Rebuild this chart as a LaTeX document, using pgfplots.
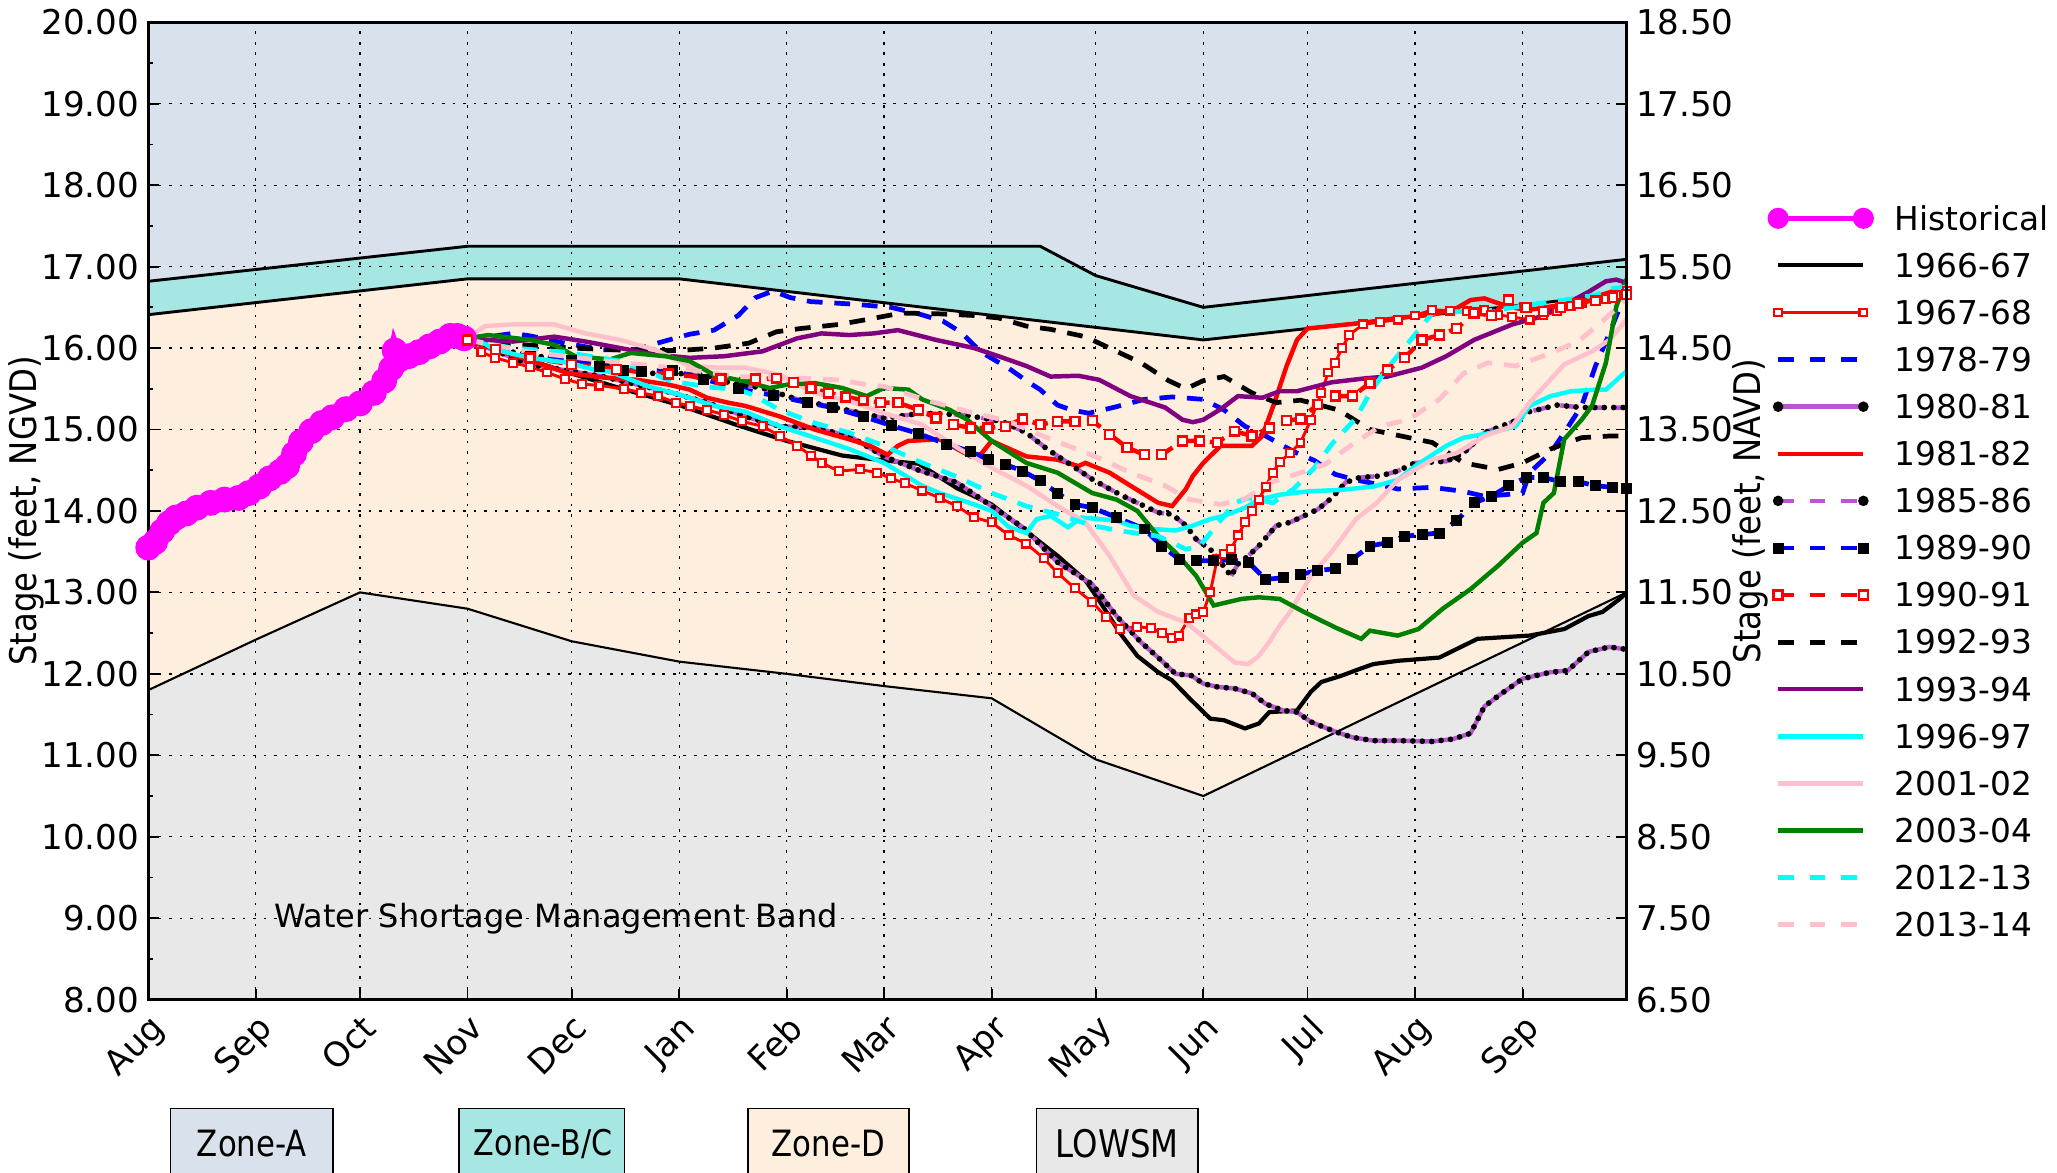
\documentclass[border=0pt]{standalone}
\usepackage{fontspec}
\setmainfont{DejaVu Sans}
\newfontfamily\condfont[FakeStretch=0.88]{DejaVu Sans}
\newfontfamily\zonefont[FakeStretch=0.85]{DejaVu Sans}
\usepackage{pgfplots}
\usepackage{pgfplotstable}
\pgfplotsset{compat=1.18}

\definecolor{zoneA}{RGB}{216,225,236}
\definecolor{zoneBC}{RGB}{166,231,227}
\definecolor{zoneD}{RGB}{253,238,222}
\definecolor{lowsm}{RGB}{232,232,232}
\definecolor{magentac}{RGB}{255,0,255}
\definecolor{cyanc}{RGB}{0,255,255}
\definecolor{orchidc}{RGB}{186,85,211}
\definecolor{purplec}{RGB}{128,0,128}
\definecolor{pinkc}{RGB}{255,192,203}
\definecolor{greenc}{RGB}{0,128,0}

\newcommand\tickfont{\fontsize{13}{15}\selectfont}

% 1980-81 and 1985-86 are drawn twice (orchid line + black dots)
\pgfplotstableread{
x y
92 16.1
110 15.8
131 15.65
151 15.45
161 15.33
172 15.16
182 15.04
192 15.02
202 14.92
212 14.67
222 14.5
233 14.35
245 14.0
252 13.8
262 13.37
272 13.1
279 12.71
286 12.39
291 12.2
296 12.0
300.5 11.98
304 11.88
308 11.84
313 11.82
318 11.76
322 11.63
327 11.55
331 11.53
335 11.41
342 11.29
347 11.22
353 11.18
360 11.18
370 11.17
376 11.2
381 11.27
385 11.6
389 11.73
396 11.94
404 12.02
409 12.04
415 12.27
421 12.33
426 12.3
}\tEighty

\pgfplotstableread{
x y
92 16.1
105 15.95
120 15.85
134 15.8
143 15.69
152 15.69
160 15.67
168 15.57
177 15.51
187 15.37
200 15.25
212 15.14
223 15.2
235 15.18
246 15.1
253 14.96
259 14.76
265 14.59
272 14.39
277 14.27
281 14.18
287 14.06
291 13.98
295 13.96
299 13.82
302 13.65
306 13.53
309 13.37
312 13.2
314 13.35
317 13.45
320 13.57
325 13.82
329 13.86
333 13.94
337 14.02
341 14.16
345 14.35
349 14.41
355 14.43
360 14.49
365 14.59
374 14.61
379 14.71
385 14.96
393.5 15.1
398 15.22
406 15.3
413 15.27
426 15.27
}\tEightyFive

\begin{document}
\begin{tikzpicture}
\begin{axis}[
    name=main,
    at={(0,0)}, anchor=south west,
    scale only axis, width=563.5pt, height=372.5pt,
    set layers,
    xmin=0, xmax=426, ymin=8, ymax=20,
    xtick={0,31,61,92,122,153,184,212,243,273,304,334,365,396},
    xticklabels={Aug,Sep,Oct,Nov,Dec,Jan,Feb,Mar,Apr,May,Jun,Jul,Aug,Sep},
    xticklabel style={rotate=45, anchor=north east, font=\tickfont},
    ytick={8,...,20},
    minor ytick={8.5,9.5,...,19.5},
    yticklabel style={/pgf/number format/.cd, fixed, fixed zerofill, precision=2,
        assume math mode=true, /tikz/.cd, font=\tickfont},
    ytick pos=left, xtick pos=bottom,
    tick align=inside,
    major tick length=4pt, minor tick length=2pt,
    tick style={black, line width=0.7pt},
    axis line style={line width=1pt},
    grid=major,
    major grid style={black, line width=0.5pt, dash pattern=on 1pt off 3pt},
    every axis y label/.style={at={(axis description cs:-0.0825,0.5)}, rotate=90, anchor=center},
    ylabel={\condfont\fontsize{14}{16}\selectfont Stage (feet, NGVD)},
    legend style={draw=none, fill=none, inner sep=0pt,
        at={(1,1)}, anchor=north west, xshift=53.5pt, yshift=-70pt,
        row sep=8.95pt, column sep=8pt,
        nodes={inner sep=0pt, text height=9pt, text depth=0pt},
        font=\fontsize{12.5}{14}\selectfont},
    legend cell align=left,
    legend image code/.code={
        \path[draw=none, fill=none] (-4pt,-4pt) rectangle (36.5pt,4pt);
        \draw[mark repeat=1,#1] plot coordinates {(0pt,0pt) (32.5pt,0pt)};},
]

% ---- zone fills ----
\addplot[fill=zoneA, draw=none, on layer=axis background, forget plot]
    coordinates {(0,8) (426,8) (426,20) (0,20)};
\addplot[fill=zoneBC, draw=none, on layer=axis background, forget plot]
    coordinates {(0,8) (0,16.82) (92,17.25) (257,17.25) (273,16.89) (304,16.5) (426,17.09) (426,8)};
\addplot[fill=zoneD, draw=none, on layer=axis background, forget plot]
    coordinates {(0,8) (0,16.41) (92,16.85) (153,16.85) (304,16.1) (426,16.67) (426,8)};
\addplot[fill=lowsm, draw=none, on layer=axis background, forget plot]
    coordinates {(0,8) (0,11.8) (31,12.42) (61,13.0) (92,12.8) (122,12.4) (153,12.15) (184,12.0)
                 (212,11.85) (243,11.7) (273,10.95) (304,10.5) (426,13.0) (426,8)};

% ---- zone boundaries ----
\addplot[black, line width=1.1pt, forget plot]
    coordinates {(0,16.82) (92,17.25) (257,17.25) (273,16.89) (304,16.5) (426,17.09)};
\addplot[black, line width=1.1pt, forget plot]
    coordinates {(0,16.41) (92,16.85) (153,16.85) (304,16.1) (426,16.67)};
\addplot[black, line width=0.8pt, forget plot]
    coordinates {(0,11.8) (31,12.42) (61,13.0) (92,12.8) (122,12.4) (153,12.15) (184,12.0)
                 (212,11.85) (243,11.7) (273,10.95) (304,10.5) (426,13.0)};

\node[font=\fontsize{12.2}{14}\selectfont] at (axis cs:117.5,9.0) {Water Shortage Management Band};

% ---- Historical ----
\addplot[magentac, line width=4.6pt, mark=*, mark size=2.6pt, forget plot] coordinates {
(0,13.55) (2,13.62) (4,13.75) (6,13.85) (8,13.92) (11,13.97) (14,14.04) (18,14.1) (22,14.14)
(26,14.16) (29,14.22) (32,14.3) (35,14.4) (38,14.48) (40,14.55) (42,14.7) (44,14.85) (47,14.98)
(50,15.08) (53,15.15) (57,15.25) (61,15.32) (65,15.45) (68,15.6) (70,15.75) (71,15.97) (72,15.85)
(75,15.9) (78,15.95) (81,16.02) (84,16.08) (87,16.15) (89,16.15) (91,16.12)};

% ---- 1966-67 ----
\addplot[black, line width=1.6pt, forget plot] coordinates {
(92,16.12) (100,15.98) (110,15.85) (121,15.7) (135,15.52) (153,15.3) (170,15.05) (184,14.86)
(200,14.68) (212,14.62) (222,14.58) (233,14.28) (243,14.08) (253,13.75) (262,13.45) (270,13.15)
(274,12.9) (280,12.5) (285,12.22) (291,12.02) (295,11.92) (300,11.7) (306,11.45) (310,11.43)
(316,11.33) (320,11.39) (323,11.53) (331,11.55) (335,11.78) (338,11.9) (344,11.98) (349,12.06)
(353,12.12) (360,12.16) (372,12.2) (383,12.43) (398,12.47) (408,12.55) (415,12.71) (419,12.76)
(424,12.92) (426,13.0)};

% ---- 1967-68 ----
\addplot[red, line width=1.1pt, mark=square*, mark size=1.5pt,
    mark options={solid, fill=white, draw=red, line width=0.8pt}, forget plot] coordinates {
(92,16.1) (96,15.95) (100,15.88) (105,15.82) (110,15.77) (115,15.7) (120,15.62) (125,15.56)
(130,15.54) (137,15.5) (142,15.45) (147,15.41) (152,15.33) (156,15.29) (161,15.24) (166,15.18)
(171,15.1) (177,15.04) (182,14.92) (187,14.8) (191,14.68) (194,14.59) (199,14.49) (205,14.51)
(210,14.47) (214,14.4) (218,14.34) (223,14.25) (228,14.16) (233,14.06) (238,13.92) (243,13.86)
(248,13.7) (253,13.6) (258,13.42) (262,13.24) (267,13.05) (272,12.88) (276,12.7) (280,12.55)
(285,12.58) (289,12.56) (292,12.5) (295,12.44) (297,12.47) (300,12.69) (302,12.73) (304,12.76)
(306,13.0) (308,13.41) (310,13.47) (312,13.53) (314,13.7) (316,13.86) (318,14.0) (320,14.14)
(322,14.3) (324,14.47) (326,14.6) (329,14.71) (332,14.84) (335,15.12) (338,15.45) (340,15.7)
(342,15.82) (344,16.0) (346,16.16) (350,16.29) (355,16.32) (360,16.35) (365,16.4) (370,16.47)
(375,16.46) (380,16.45) (385,16.47) (389,16.41) (393,16.38) (398,16.35) (402,16.4) (406,16.45)
(410,16.52) (413,16.55) (417,16.58) (420,16.6) (423,16.65) (426,16.7)};

% ---- 1978-79 ----
\addplot[blue, line width=1.8pt, dash pattern=on 6pt off 4.5pt, forget plot] coordinates {
(92,16.1) (100,16.15) (105,16.18) (110,16.15) (120,16.06) (131,15.98) (140,15.98) (150,16.1)
(156,16.17) (163,16.22) (170,16.4) (175,16.62) (180,16.7) (185,16.62) (191,16.57) (203,16.54)
(214,16.5) (222,16.42) (229,16.33) (234,16.2) (240,15.95) (248,15.75) (254,15.57) (257,15.49)
(262,15.3) (266,15.24) (271,15.2) (278,15.27) (287,15.37) (295,15.4) (304,15.37) (310,15.24)
(316,15.04) (322,14.92) (327,14.8) (331,14.71) (336,14.62) (342,14.45) (348,14.38) (354,14.33)
(360,14.27) (370,14.29) (379,14.24) (385,14.18) (391,14.2) (396,14.22) (398,14.47) (404,14.71)
(408,14.96) (413,15.29) (417,15.78) (421,16.18) (424,16.5) (426,16.7)};

% ---- 1980-81 ----
\addplot[orchidc, line width=1.7pt, forget plot] table {\tEighty};
\addplot[black, line width=2.2pt, line cap=round, dash pattern=on 0pt off 3.6pt, forget plot] table {\tEighty};

% ---- 1981-82 ----
\addplot[red, line width=1.7pt, forget plot] coordinates {
(92,16.12) (100,15.98) (110,15.85) (121,15.69) (131,15.64) (141,15.61) (150,15.55) (156,15.49)
(161,15.39) (167,15.33) (172,15.29) (182,15.16) (192,15.0) (202,14.88) (208,14.8) (213,14.69)
(216,14.8) (219,14.86) (228,14.88) (237,14.67) (240,14.7) (243,14.86) (253,14.67) (262,14.63)
(268,14.55) (270,14.59) (277,14.47) (283,14.31) (291,14.1) (295,14.06) (299,14.27) (301,14.43)
(304,14.59) (309,14.8) (318,14.8) (321,14.92) (324.5,15.33) (328,15.78) (331,16.1) (334,16.24)
(341,16.27) (350,16.31) (360,16.37) (370,16.41) (377,16.49) (381,16.59) (385,16.61) (389,16.55)
(394,16.49) (398,16.47) (404,16.51) (410,16.55) (417,16.63) (423,16.71) (426,16.78)};

% ---- 1985-86 ----
\addplot[orchidc, line width=1.7pt, dash pattern=on 6pt off 4.5pt, forget plot] table {\tEightyFive};
\addplot[black, line width=2.2pt, line cap=round, dash pattern=on 0pt off 3.6pt, forget plot] table {\tEightyFive};

% ---- 1989-90 ----
\addplot[blue, line width=1.8pt, dash pattern=on 6pt off 4.5pt, mark=square*, mark size=1.9pt,
    mark options={solid, black, line width=0.3pt}, forget plot] coordinates {
(92,16.1) (100,15.98) (110,15.9) (122,15.85) (130,15.78) (137,15.73) (142,15.71) (151,15.73)
(160,15.62) (170,15.5) (180,15.42) (190,15.33) (197,15.27) (206,15.16) (214,15.05) (222,14.95)
(230,14.82) (237,14.73) (242,14.63) (247,14.57) (252,14.49) (257,14.37) (262,14.22) (267,14.08)
(272,14.04) (279,13.92) (287,13.78) (292,13.57) (297,13.41) (302,13.39) (307,13.39) (312,13.4)
(317,13.37) (322,13.16) (327,13.18) (332,13.22) (337,13.27) (342,13.29) (347,13.41) (352,13.57)
(357,13.61) (362,13.69) (367,13.71) (372,13.73) (377,13.88) (382,14.1) (387,14.18) (392,14.31)
(397,14.41) (402,14.41) (407,14.36) (412,14.36) (417,14.31) (422,14.29) (426,14.28)};

% ---- 1990-91 ----
\addplot[red, line width=1.7pt, dash pattern=on 6pt off 4.5pt, mark=square*, mark size=1.7pt,
    mark options={solid, fill=white, draw=red, line width=0.9pt}, forget plot] coordinates {
(92,16.1) (100,15.98) (110,15.88) (122,15.8) (135,15.74) (150,15.68) (165,15.62) (175,15.62)
(181,15.63) (186,15.58) (191,15.51) (196,15.45) (201,15.4) (206,15.36) (211,15.33) (216,15.33)
(222,15.24) (227,15.14) (232,15.06) (237,15.02) (242,15.02) (247,15.04) (252,15.13) (257,15.06)
(262,15.1) (267,15.1) (272,15.11) (277,14.94) (282,14.78) (287,14.69) (292,14.69) (298,14.86)
(303,14.86) (308,14.84) (313,14.98) (318,14.92) (323,15.02) (328,15.11) (332,15.13) (337,15.31)
(342,15.41) (347,15.41) (352,15.57) (357,15.73) (362,15.88) (367,16.1) (372,16.16) (377,16.24)
(382,16.43) (387,16.4) (392,16.59) (397,16.5) (402,16.45) (407,16.5) (412,16.55) (417,16.58)
(422,16.62) (426,16.66)};

% ---- 1992-93 ----
\addplot[black, line width=1.8pt, dash pattern=on 6pt off 4.5pt, forget plot] coordinates {
(92,16.1) (105,16.05) (122,16.0) (140,15.97) (153,15.97) (163,16.0) (173,16.06) (181,16.2)
(188,16.24) (199,16.29) (207,16.35) (217,16.43) (228,16.42) (238,16.4) (245,16.37) (253,16.27)
(260,16.23) (270,16.14) (278,15.98) (286,15.82) (294,15.6) (299,15.5) (304,15.6) (310,15.65)
(318,15.45) (325,15.33) (332,15.36) (343,15.24) (352,15.0) (361,14.92) (370,14.84) (379,14.59)
(389,14.51) (396,14.59) (404,14.76) (413,14.9) (421,14.92) (426,14.92)};

% ---- 1993-94 ----
\addplot[purplec, line width=1.7pt, forget plot] coordinates {
(92,16.1) (98,16.1) (105,16.08) (117,16.14) (126,16.08) (136,16.0) (146,15.92) (156,15.88)
(166,15.9) (177,15.96) (187,16.12) (194,16.18) (202,16.16) (209,16.18) (216,16.22) (227,16.1)
(238,16.0) (245,15.9) (253,15.78) (260,15.65) (268,15.66) (274,15.61) (283,15.41) (293,15.27)
(298,15.12) (301,15.09) (304,15.12) (309,15.25) (314,15.41) (321,15.39) (326,15.47) (331,15.47)
(341,15.58) (351,15.63) (357,15.65) (367,15.76) (374,15.9) (382,16.1) (393,16.29) (400,16.37)
(408,16.53) (415,16.69) (420,16.82) (423,16.84) (426,16.8)};

% ---- 1996-97 ----
\addplot[cyanc, line width=1.7pt, forget plot] coordinates {
(92,16.12) (97,16.05) (100,15.98) (110,15.88) (121,15.82) (129,15.73) (133,15.71) (144,15.53)
(153,15.43) (163,15.29) (172,15.22) (182,15.04) (192,14.9) (202,14.76) (212,14.59) (223,14.31)
(228,14.22) (238,14.08) (243,14.0) (248,13.8) (253,13.73) (256,13.9) (260,13.94) (265,13.8)
(269,13.92) (274,13.9) (279,13.88) (283,13.82) (289,13.78) (296,13.76) (301,13.82) (306,13.9)
(310,13.94) (316,14.04) (320,14.14) (326,14.2) (334,14.24) (344,14.26) (353,14.3) (360,14.38)
(365,14.55) (374,14.8) (379,14.9) (387,14.96) (394,15.04) (398,15.29) (404,15.41) (410,15.47)
(417,15.49) (420,15.49) (426,15.72)};

% ---- 2001-02 ----
\addplot[pinkc, line width=1.7pt, forget plot] coordinates {
(92,16.12) (97,16.27) (105,16.29) (117,16.29) (126,16.18) (136,16.1) (146,15.98) (156,15.78)
(164,15.76) (172,15.76) (182,15.67) (192,15.45) (202,15.35) (212,15.2) (223,15.06) (233,14.78)
(243,14.53) (253,14.31) (262,14.06) (270,13.86) (277,13.45) (284,12.96) (291,12.76) (299,12.63)
(306,12.39) (313,12.14) (317,12.12) (320,12.22) (323,12.39) (326,12.59) (329,12.76) (335,13.2)
(341,13.5) (348,13.9) (354,14.1) (360,14.38) (370,14.63) (377,14.71) (385,14.92) (393,15.04)
(398,15.33) (408,15.8) (416,15.96) (421,16.1) (426,16.35)};

% ---- 2003-04 ----
\addplot[greenc, line width=1.7pt, forget plot] coordinates {
(92,16.12) (98,16.16) (110,16.1) (117,16.04) (123,15.9) (133,15.86) (139,15.94) (149,15.9)
(156,15.84) (163,15.67) (172,15.59) (179,15.51) (184,15.55) (192,15.57) (200,15.51) (207,15.41)
(212,15.51) (219,15.49) (223,15.37) (231,15.24) (236,15.12) (243,14.86) (253,14.59) (262,14.47)
(272,14.22) (279,14.14) (285,14.0) (291,13.69) (296,13.49) (302,13.2) (307,12.84) (315,12.92)
(320,12.94) (326,12.92) (333,12.76) (342,12.57) (349.5,12.43) (352,12.53) (360,12.47) (366,12.55)
(373,12.8) (381,13.04) (389,13.33) (396,13.61) (400,13.73) (402,14.1) (405,14.22) (408,14.88)
(413,15.12) (416,15.29) (420,15.82) (423,16.51) (426,16.85)};

% ---- 2012-13 ----
\addplot[cyanc, line width=1.8pt, dash pattern=on 6pt off 4.5pt, forget plot] coordinates {
(92,16.1) (105,16.0) (120,15.95) (136,15.84) (151,15.59) (162,15.52) (170,15.49) (174,15.43)
(182,15.24) (192,15.08) (202,14.96) (212,14.8) (223,14.59) (233,14.42) (243,14.22) (253,14.06)
(262,13.96) (272,13.82) (281,13.75) (291,13.69) (299,13.53) (303,13.57) (307,13.78) (313,14.1)
(317,14.16) (324,14.1) (330,14.27) (336,14.53) (341,14.82) (348,15.14) (352,15.45) (357,15.75)
(363,16.06) (370,16.43) (379,16.45) (389,16.47) (398,16.53) (408,16.59) (417,16.65) (422,16.73)
(426,16.75)};

% ---- 2013-14 ----
\addplot[pinkc, line width=1.8pt, dash pattern=on 6pt off 4.5pt, forget plot] coordinates {
(92,16.1) (110,15.95) (130,15.85) (153,15.75) (170,15.65) (188,15.63) (199,15.61) (207,15.55)
(212,15.53) (225,15.35) (238,15.2) (248,15.1) (256,14.95) (265,14.8) (274,14.65) (283,14.47)
(293,14.31) (300,14.14) (309,14.08) (316,14.15) (323.5,14.35) (332,14.47) (339,14.57) (347,14.82)
(355,15.04) (363,15.12) (372,15.37) (379,15.69) (386,15.82) (394,15.78) (403,15.92) (412,16.08)
(419,16.33) (426,16.6)};

% ---- legend ----
\addlegendimage{magentac, line width=2pt, mark=*, mark size=3pt}
\addlegendentry{Historical}
\addlegendimage{black, line width=1.6pt}
\addlegendentry{1966-67}
\addlegendimage{red, line width=1.1pt, mark=square*, mark size=1.5pt, mark options={solid, fill=white, draw=red, line width=0.8pt}}
\addlegendentry{1967-68}
\addlegendimage{blue, line width=1.8pt, dash pattern=on 6pt off 6pt}
\addlegendentry{1978-79}
\addlegendimage{orchidc, line width=1.7pt, mark=*, mark size=1.1pt, mark options={black}}
\addlegendentry{1980-81}
\addlegendimage{red, line width=1.7pt}
\addlegendentry{1981-82}
\addlegendimage{orchidc, line width=1.7pt, dash pattern=on 6pt off 6pt, mark=*, mark size=1.1pt, mark options={solid, black}}
\addlegendentry{1985-86}
\addlegendimage{blue, line width=1.8pt, dash pattern=on 6pt off 6pt, mark=square*, mark size=1.9pt, mark options={solid, black, line width=0.3pt}}
\addlegendentry{1989-90}
\addlegendimage{red, line width=1.8pt, dash pattern=on 6pt off 6pt, mark=square*, mark size=1.7pt, mark options={solid, fill=white, draw=red, line width=0.9pt}}
\addlegendentry{1990-91}
\addlegendimage{black, line width=1.8pt, dash pattern=on 6pt off 6pt}
\addlegendentry{1992-93}
\addlegendimage{purplec, line width=1.7pt}
\addlegendentry{1993-94}
\addlegendimage{cyanc, line width=1.7pt}
\addlegendentry{1996-97}
\addlegendimage{pinkc, line width=1.7pt}
\addlegendentry{2001-02}
\addlegendimage{greenc, line width=1.7pt}
\addlegendentry{2003-04}
\addlegendimage{cyanc, line width=1.8pt, dash pattern=on 6pt off 6pt}
\addlegendentry{2012-13}
\addlegendimage{pinkc, line width=1.8pt, dash pattern=on 6pt off 6pt}
\addlegendentry{2013-14}
\end{axis}

% right-hand NAVD axis
\begin{axis}[
    at={(0,0)}, anchor=south west,
    scale only axis, width=563.5pt, height=372.5pt,
    xmin=0, xmax=426, ymin=6.5, ymax=18.5,
    axis x line=none, axis y line*=right,
    ytick={6.5,7.5,...,18.5},
    yticklabel style={/pgf/number format/.cd, fixed, fixed zerofill, precision=2,
        assume math mode=true, /tikz/.cd, font=\tickfont},
    tick align=inside, major tick length=4pt,
    tick style={black, line width=0.7pt},
    axis line style={line width=1pt},
    every axis y label/.style={at={(axis description cs:1.0835,0.5)}, rotate=90, anchor=center},
    ylabel={\condfont\fontsize{14}{16}\selectfont Stage (feet, NAVD)},
]
\addplot[draw=none, forget plot] coordinates {(0,10) (426,10)};
\end{axis}

% zone key boxes below the plot
\begin{scope}[shift={(main.south west)}]
\draw[fill=zoneA, line width=0.6pt] (8.5pt,-41.5pt) rectangle (70.5pt,-90pt);
\node[font=\zonefont\fontsize{13.8}{16}\selectfont] at (39.5pt,-55pt) {Zone-A};
\draw[fill=zoneBC, line width=0.6pt] (118.5pt,-41.5pt) rectangle (181.5pt,-90pt);
\node[font=\zonefont\fontsize{13.5}{16}\selectfont] at (150.5pt,-55pt) {Zone-B/C};
\draw[fill=zoneD, line width=0.6pt] (228.5pt,-41.5pt) rectangle (290pt,-90pt);
\node[font=\zonefont\fontsize{13.8}{16}\selectfont] at (259.25pt,-55pt) {Zone-D};
\draw[fill=lowsm, line width=0.6pt] (338.5pt,-41.5pt) rectangle (400pt,-90pt);
\node[font=\zonefont\fontsize{14.5}{16}\selectfont] at (369.25pt,-55pt) {LOWSM};
\end{scope}

\pgfresetboundingbox
\path[use as bounding box] ([xshift=-56.5pt,yshift=-66pt]main.south west)
    rectangle ([xshift=164pt,yshift=8.5pt]main.north east);
\end{tikzpicture}
\end{document}
